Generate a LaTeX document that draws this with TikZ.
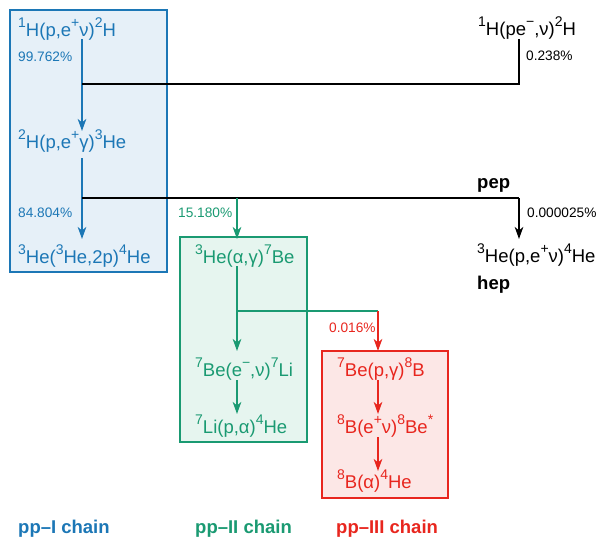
\documentclass[tikz,border=0pt]{standalone}
\usepackage{fontspec}
\setmainfont{Liberation Sans}
\usetikzlibrary{arrows.meta}
\definecolor{cI}{HTML}{1C77B6}
\definecolor{cII}{HTML}{1A9A72}
\definecolor{cIII}{HTML}{E8261E}
\definecolor{fI}{HTML}{E6F0F8}
\definecolor{fII}{HTML}{E6F5EF}
\definecolor{fIII}{HTML}{FCE7E6}
\newcommand{\su}[1]{\raisebox{8.5pt}{\fontsize{14}{14}\selectfont #1}}
\tikzset{
  rx/.style={anchor=base west, inner sep=0pt, font=\fontsize{18.5}{20}\selectfont},
  pct/.style={anchor=base west, inner sep=0pt, font=\fontsize{13.7}{15}\selectfont},
  lab/.style={anchor=base west, inner sep=0pt, font=\fontsize{18.5}{20}\selectfont\bfseries},
  chainbox/.style={line width=2.6pt},
  conn/.style={line width=2.1pt},
  arr/.style={conn, -{Stealth[length=12pt,width=8.5pt,inset=3.5pt]}},
}
\begin{document}
\begin{tikzpicture}[x=1pt,y=-1pt]
\useasboundingbox (0,0) rectangle (598,538);
% boxes
\draw[chainbox, draw=cI, fill=fI] (10,10) rectangle (167,272);
\draw[chainbox, draw=cII, fill=fII] (180,237) rectangle (307,442);
\draw[chainbox, draw=cIII, fill=fIII] (322,351) rectangle (448,498);
% pp-I
\node[rx, text=cI] (a1) at (18,36) {\su{1}H(p,e\su{+}ν)\su{2}H};
\node[pct, text=cI] (p1) at (18,61) {99.762\%};
\node[rx, text=cI] (a2) at (18,148) {\su{2}H(p,e\su{+}γ)\su{3}He};
\node[pct, text=cI] (p2) at (18,217) {84.804\%};
\node[rx, text=cI] (a3) at (18,263) {\su{3}He(\su{3}He,2p)\su{4}He};
% side reactions
\node[rx] (b1) at (478,35) {\su{1}H(pe\su{−},ν)\su{2}H};
\node[pct] (p3) at (526,60) {0.238\%};
\node[lab] (pep) at (477,188) {pep};
\node[pct] (p4) at (527,217) {0.000025\%};
\node[rx] (b2) at (477,262) {\su{3}He(p,e\su{+}ν)\su{4}He};
\node[lab] (hep) at (477,289) {hep};
% pp-II
\node[pct, text=cII] (p5) at (178,217) {15.180\%};
\node[rx, text=cII] (c1) at (195,263) {\su{3}He(α,γ)\su{7}Be};
\node[rx, text=cII] (c2) at (195,376) {\su{7}Be(e\su{−},ν)\su{7}Li};
\node[rx, text=cII] (c3) at (195,433) {\su{7}Li(p,α)\su{4}He};
% pp-III
\node[pct, text=cIII] (p6) at (329,332) {0.016\%};
\node[rx, text=cIII] (d1) at (337,376) {\su{7}Be(p,γ)\su{8}B};
\node[rx, text=cIII] (d2) at (337,433) {\su{8}B(e\su{+}ν)\su{8}Be\su{*}};
\node[rx, text=cIII] (d3) at (337,488) {\su{8}B(α)\su{4}He};
% chain labels
\node[lab, text=cI] (l1) at (18,533) {pp–I chain};
\node[lab, text=cII] (l2) at (195,533) {pp–II chain};
\node[lab, text=cIII] (l3) at (336,533) {pp–III chain};
% junction coordinates
\coordinate (j1) at (82,84);
\coordinate (j1r) at (519,84);
\coordinate (j2) at (82,198);
\coordinate (j2g) at (237,198);
\coordinate (j2r) at (519,198);
\coordinate (j3) at (237,311);
\coordinate (j3r) at (378,311);
% pp-I connectors
\draw[conn, cI] (82,39) coordinate (s1) -- (j1);
\draw[arr, cI] (j1) -- (82,131) coordinate (t1);
\draw[conn, cI] (82,158) coordinate (s2) -- (j2);
\draw[arr, cI] (j2) -- (82,239) coordinate (t2);
% black connectors
\draw[conn, line width=2pt] (j1) -- (j1r) -- (519,39) coordinate (s3);
\draw[conn, line width=2pt] (j2) -- (j2r);
\draw[arr, line width=2pt] (j2r) -- (519,239) coordinate (t3);
% pp-II connectors
\draw[arr, cII] (j2g) -- (237,239) coordinate (t4);
\draw[conn, cII] (237,266) coordinate (s5) -- (j3);
\draw[arr, cII] (j3) -- (237,351) coordinate (t5);
\draw[conn, cII] (j3) -- (j3r);
\draw[arr, cII] (237,380) coordinate (s6) -- (237,414) coordinate (t6);
% pp-III connectors
\draw[arr, cIII] (j3r) -- (378,351) coordinate (t7);
\draw[arr, cIII] (378,380) coordinate (s8) -- (378,414) coordinate (t8);
\draw[arr, cIII] (378,437) coordinate (s9) -- (378,471) coordinate (t9);
\end{tikzpicture}
\end{document}
